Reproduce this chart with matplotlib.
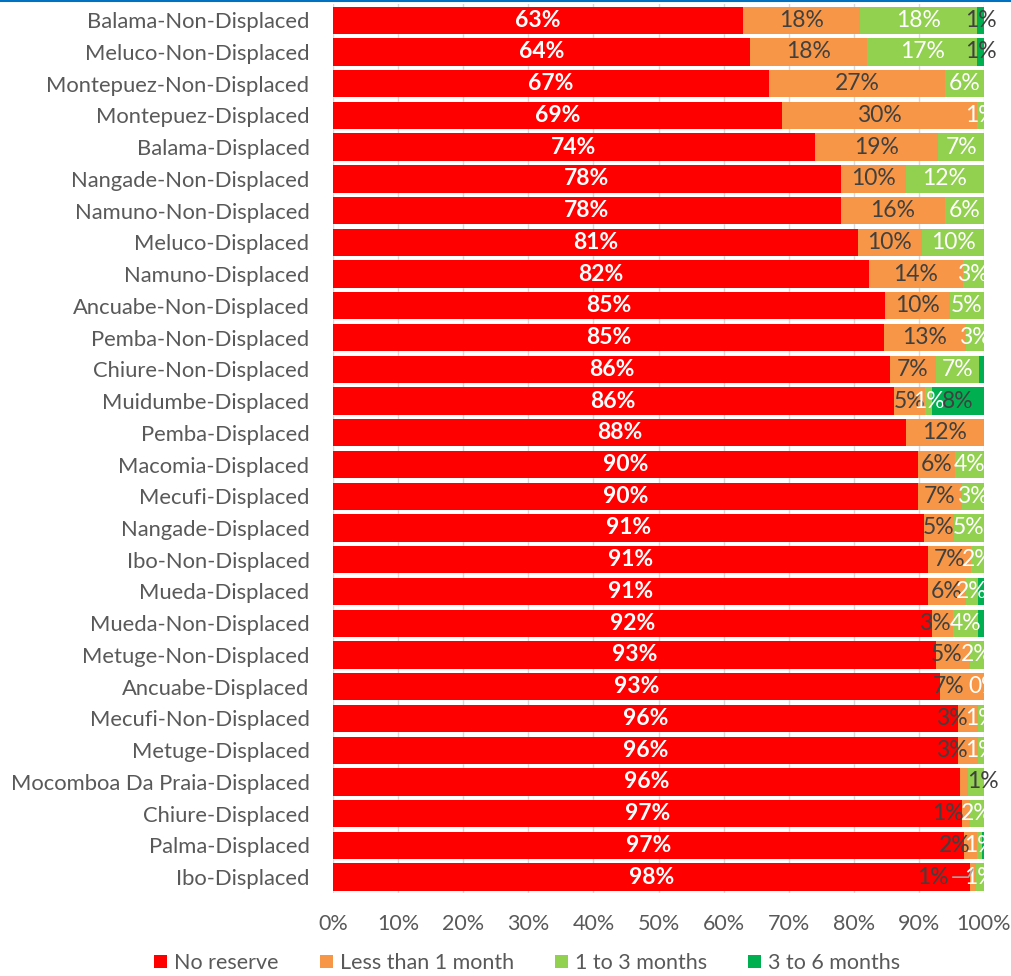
import matplotlib.pyplot as plt
import numpy as np
from matplotlib.patches import Patch
from matplotlib.lines import Line2D

plt.rcParams['font.family'] = ['Lato', 'DejaVu Sans']

# share of households by months of food reserve, top row first
categories = [
    "Balama-Non-Displaced", "Meluco-Non-Displaced", "Montepuez-Non-Displaced",
    "Montepuez-Displaced", "Balama-Displaced", "Nangade-Non-Displaced",
    "Namuno-Non-Displaced", "Meluco-Displaced", "Namuno-Displaced",
    "Ancuabe-Non-Displaced", "Pemba-Non-Displaced", "Chiure-Non-Displaced",
    "Muidumbe-Displaced", "Pemba-Displaced", "Macomia-Displaced",
    "Mecufi-Displaced", "Nangade-Displaced", "Ibo-Non-Displaced",
    "Mueda-Displaced", "Mueda-Non-Displaced", "Metuge-Non-Displaced",
    "Ancuabe-Displaced", "Mecufi-Non-Displaced", "Metuge-Displaced",
    "Mocomboa Da Praia-Displaced", "Chiure-Displaced", "Palma-Displaced",
    "Ibo-Displaced",
]
no_reserve = [63, 64, 67, 69, 74, 78, 78, 80.6, 82.3, 84.8, 84.6, 85.6, 86.1, 88,
              89.9, 89.9, 90.8, 91.4, 91.4, 92.0, 92.6, 93.2, 96.0, 96.0, 96.3,
              96.6, 96.9, 97.9]
less_1m = [18, 18, 27, 30, 19, 10, 16, 9.9, 14.4, 10.0, 12.6, 7.0, 4.9, 12,
           5.7, 6.7, 4.6, 6.6, 5.8, 3.3, 5.2, 6.8, 3.1, 3.1, 1.2, 1.2, 2.0, 0.8]
m1_3 = [18, 17, 6, 1, 7, 12, 6, 9.5, 3.3, 5.2, 2.8, 6.6, 1.0, np.nan,
        4.4, 3.4, 4.6, 2.0, 1.9, 3.8, 2.2, 0.0, 0.9, 0.9, 2.5, 2.2, 0.8, 1.3]
m3_6 = [1, 1, np.nan, np.nan, np.nan, np.nan, np.nan, np.nan, np.nan, np.nan,
        np.nan, 0.8, 8.0, np.nan, np.nan, np.nan, np.nan, np.nan, 0.9, 0.9,
        np.nan, np.nan, np.nan, np.nan, np.nan, np.nan, 0.3, np.nan]
series_names = ["No reserve", "Less than 1 month", "1 to 3 months", "3 to 6 months"]
ticks = [0, 10, 20, 30, 40, 50, 60, 70, 80, 90, 100]

colors = ["#FF0000", "#F79646", "#92D050", "#00B050"]
label_colors = ["white", "#404040", "white", "#404040"]

# labels moved off their segment centre (row, series) -> x
moved = {(19, 1): 92.5, (20, 1): 94.2, (21, 1): 94.6, (22, 1): 95.1,
         (23, 1): 95.1, (24, 1): 99.8, (25, 1): 94.5, (26, 1): 95.5,
         (27, 1): 92.2}
hidden = {(24, 2)}

fig = plt.figure(figsize=(10.11, 9.76), dpi=100)
ax = fig.add_axes([333/1011, 1-893/976, (984-333)/1011, (893-4.3)/976])

y = np.arange(len(categories))
left = np.zeros(len(categories))
data = [no_reserve, less_1m, m1_3, m3_6]
for s, vals in enumerate(data):
    v = np.nan_to_num(np.array(vals, dtype=float))
    ax.barh(y, v, left=left, height=0.86, color=colors[s], zorder=2)
    for i, val in enumerate(vals):
        if np.isnan(val) or (i, s) in hidden:
            continue
        if s == 3 and val < 1:
            continue
        x = moved.get((i, s), left[i] + val / 2)
        ax.text(x, i, "%d%%" % int(round(val)), ha='center', va='center',
                color=label_colors[s], fontsize=16.5,
                fontweight='bold' if s == 0 else 'normal', zorder=3)
    left += v

# leader line for the small orange label on the last row
ax.annotate("", xy=(no_reserve[-1] + less_1m[-1] / 2, 27 - 0.25),
            xytext=(95.2, 27),
            arrowprops=dict(arrowstyle='-', color='#a6a6a6', lw=1.2,
                            connectionstyle='angle,angleA=0,angleB=60,rad=0',
                            shrinkA=0, shrinkB=0), zorder=3)

ax.set_xlim(0, 100)
ax.set_ylim(len(categories) - 0.5, -0.5)
ax.set_yticks(y)
ax.set_yticklabels(categories)
ax.set_xticks(ticks)
ax.set_xticklabels(["%d%%" % t for t in ticks])
ax.tick_params(axis='y', length=0, pad=17, labelsize=15.8, labelcolor='#595959')
ax.tick_params(axis='x', length=0, pad=15, labelsize=15.5, labelcolor='#595959')
for sp in ax.spines.values():
    sp.set_visible(False)
ax.grid(axis='x', color='#d9d9d9', lw=1, zorder=0)
ax.set_axisbelow(True)

handles = [Patch(facecolor=c, edgecolor='none') for c in colors]
fig.legend(handles, series_names, loc='center', bbox_to_anchor=(527/1011, 1-963/976),
           ncol=4, frameon=False, fontsize=15.5, handlelength=0.6, handleheight=0.6,
           handletextpad=0.33, columnspacing=1.9, labelcolor='#595959')

fig.add_artist(Line2D([0, 1], [1 - 1/976, 1 - 1/976], color='#0070C0', lw=1.5))

fig.savefig("out.png", dpi=100)
